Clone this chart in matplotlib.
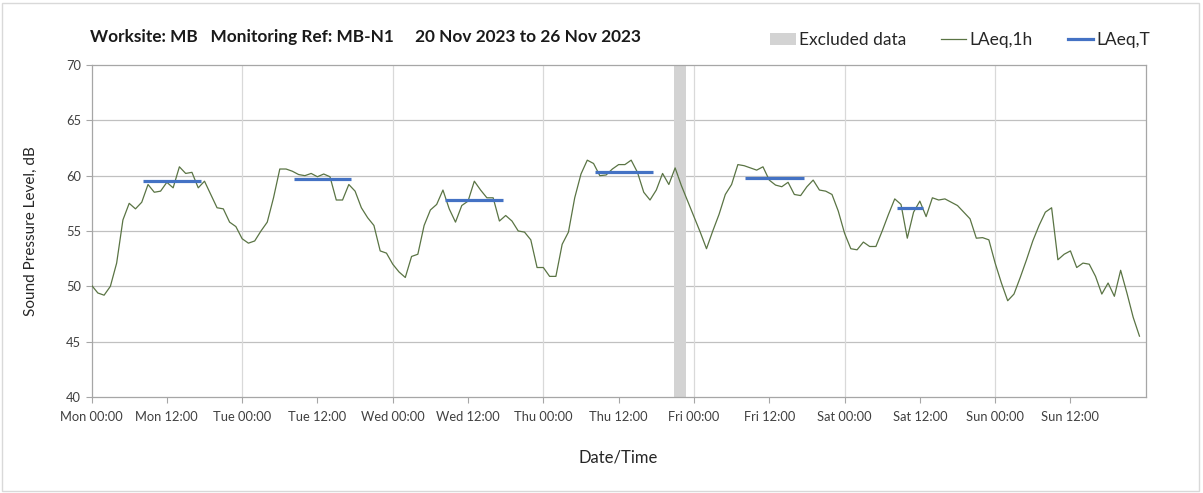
import numpy as np
import matplotlib
matplotlib.use("Agg")
import matplotlib.pyplot as plt
from matplotlib.patches import Rectangle, Patch
from matplotlib.lines import Line2D

plt.rcParams['font.family'] = ['Lato', 'DejaVu Sans']

# hourly LAeq,1h readings, Mon 00:00 .. Sun 23:00
laeq_1h = [
    50.1, 49.4, 49.2, 50.0, 52.1, 56.0, 57.5, 57.0, 57.6, 59.2, 58.5, 58.6,
    59.4, 58.9, 60.8, 60.2, 60.3, 58.9, 59.5, 58.3, 57.1, 57.0, 55.8, 55.4,
    54.3, 53.9, 54.1, 55.0, 55.8, 58.0, 60.6, 60.6, 60.4, 60.1, 60.0, 60.2,
    59.9, 60.15, 59.9, 57.8, 57.8, 59.2, 58.6, 57.1, 56.2, 55.5, 53.2, 53.0,
    52.0, 51.3, 50.8, 52.7, 52.9, 55.5, 56.9, 57.4, 58.7, 57.0, 55.8, 57.3,
    57.7, 59.5, 58.7, 58.0, 58.0, 55.9, 56.4, 55.9, 55.0, 54.9, 54.2, 51.7,
    51.7, 50.9, 50.9, 53.8, 54.9, 58.0, 60.15, 61.4, 61.1, 60.0, 60.06, 60.6,
    61.0, 61.0, 61.4, 60.3, 58.5, 57.8, 58.7, 60.2, 59.2, 60.7, 59.1, 57.7,
    56.3, 54.9, 53.4, 55.0, 56.5, 58.3, 59.2, 61.0, 60.9, 60.7, 60.5, 60.8,
    59.6, 59.15, 59.0, 59.4, 58.3, 58.2, 59.0, 59.6, 58.7, 58.6, 58.3, 56.8,
    54.8, 53.4, 53.3, 54.0, 53.6, 53.6, 55.0, 56.5, 57.9, 57.4, 54.35, 56.7,
    57.7, 56.3, 58.0, 57.8, 57.9, 57.6, 57.3, 56.7, 56.1, 54.35, 54.4, 54.2,
    52.1, 50.3, 48.7, 49.3, 50.8, 52.4, 54.1, 55.5, 56.7, 57.1, 52.4, 52.9,
    53.2, 51.7, 52.1, 52.0, 50.9, 49.3, 50.3, 49.1, 51.45, 49.4, 47.2, 45.5,
]
hours = np.arange(len(laeq_1h))

# LAeq,T daytime periods (hours from Mon 00:00)
laeqT_start = [8.25, 32.2, 56.3, 80.3, 104.2, 128.3]
laeqT_end = [17.4, 41.4, 65.5, 89.4, 113.5, 132.5]
laeqT_value = [59.5, 59.7, 57.8, 60.3, 59.8, 57.1]

excluded_start, excluded_end = 92.9, 94.8

days = ["Mon", "Tue", "Wed", "Thu", "Fri", "Sat", "Sun"]
tick_hours = np.arange(0, 168, 12)
tick_labels = [f"{days[t // 24]} {t % 24:02d}:00" for t in tick_hours]

title = "Worksite: MB   Monitoring Ref: MB-N1     20 Nov 2023 to 26 Nov 2023"

green = "#5a7444"
blue = "#4472c4"
grey_band = "#d3d3d3"

fig = plt.figure(figsize=(12.03, 4.93), dpi=100)
ax = fig.add_axes([0.0761, 0.1947, 0.8763, 0.6735])

# outer chart border
fig.patches.append(Rectangle((0.002, 0.004), 0.995, 0.99, transform=fig.transFigure,
                             fill=False, edgecolor="#d9d9d9", lw=1.0))

ax.axvspan(excluded_start, excluded_end, color=grey_band, lw=0, zorder=1)
ax.plot(hours, laeq_1h, color=green, lw=0.9, zorder=3)
for s, e, v in zip(laeqT_start, laeqT_end, laeqT_value):
    ax.plot([s, e], [v, v], color=blue, lw=2.3, solid_capstyle="butt", zorder=4)

ax.set_xlim(0, 168)
ax.set_ylim(40, 70)
ax.set_yticks(np.arange(40, 71, 5))
ax.set_xticks(tick_hours)
ax.set_xticklabels(tick_labels)

for y in range(45, 70, 5):
    ax.axhline(y, color="#c0c0c0", lw=0.9, zorder=0)
for x in np.arange(24, 168, 24):
    ax.axvline(x, color="#d9d9d9", lw=0.9, zorder=0)

for side in ["top", "right", "left", "bottom"]:
    ax.spines[side].set_color("#a6a6a6")
    ax.spines[side].set_linewidth(0.9)

ax.tick_params(axis="both", which="major", labelsize=9.3, colors="#404040",
               length=4, width=0.8)
ax.tick_params(axis="both", color="#a6a6a6")
ax.tick_params(axis="x", pad=6)

ax.set_ylabel("Sound Pressure Level, dB", fontsize=11, color="#262626", labelpad=20)
ax.set_xlabel("Date/Time", fontsize=12, color="#262626", labelpad=19)

fig.text(0.075, 0.925, title, fontsize=12.4, fontweight="bold", color="#1a1a1a",
         ha="left", va="center")

handles = [
    Patch(facecolor=grey_band, edgecolor="none"),
    Line2D([], [], color=green, lw=0.9),
    Line2D([], [], color=blue, lw=2.3),
]
fig.legend(handles, ["Excluded data", "LAeq,1h", "LAeq,T"], loc="center right",
           bbox_to_anchor=(0.969, 0.918), ncol=3, frameon=False, fontsize=12.5,
           handlelength=1.45, handletextpad=0.2, columnspacing=2.0,
           labelcolor="#262626")

fig.savefig("out.png", dpi=100, facecolor="white")
